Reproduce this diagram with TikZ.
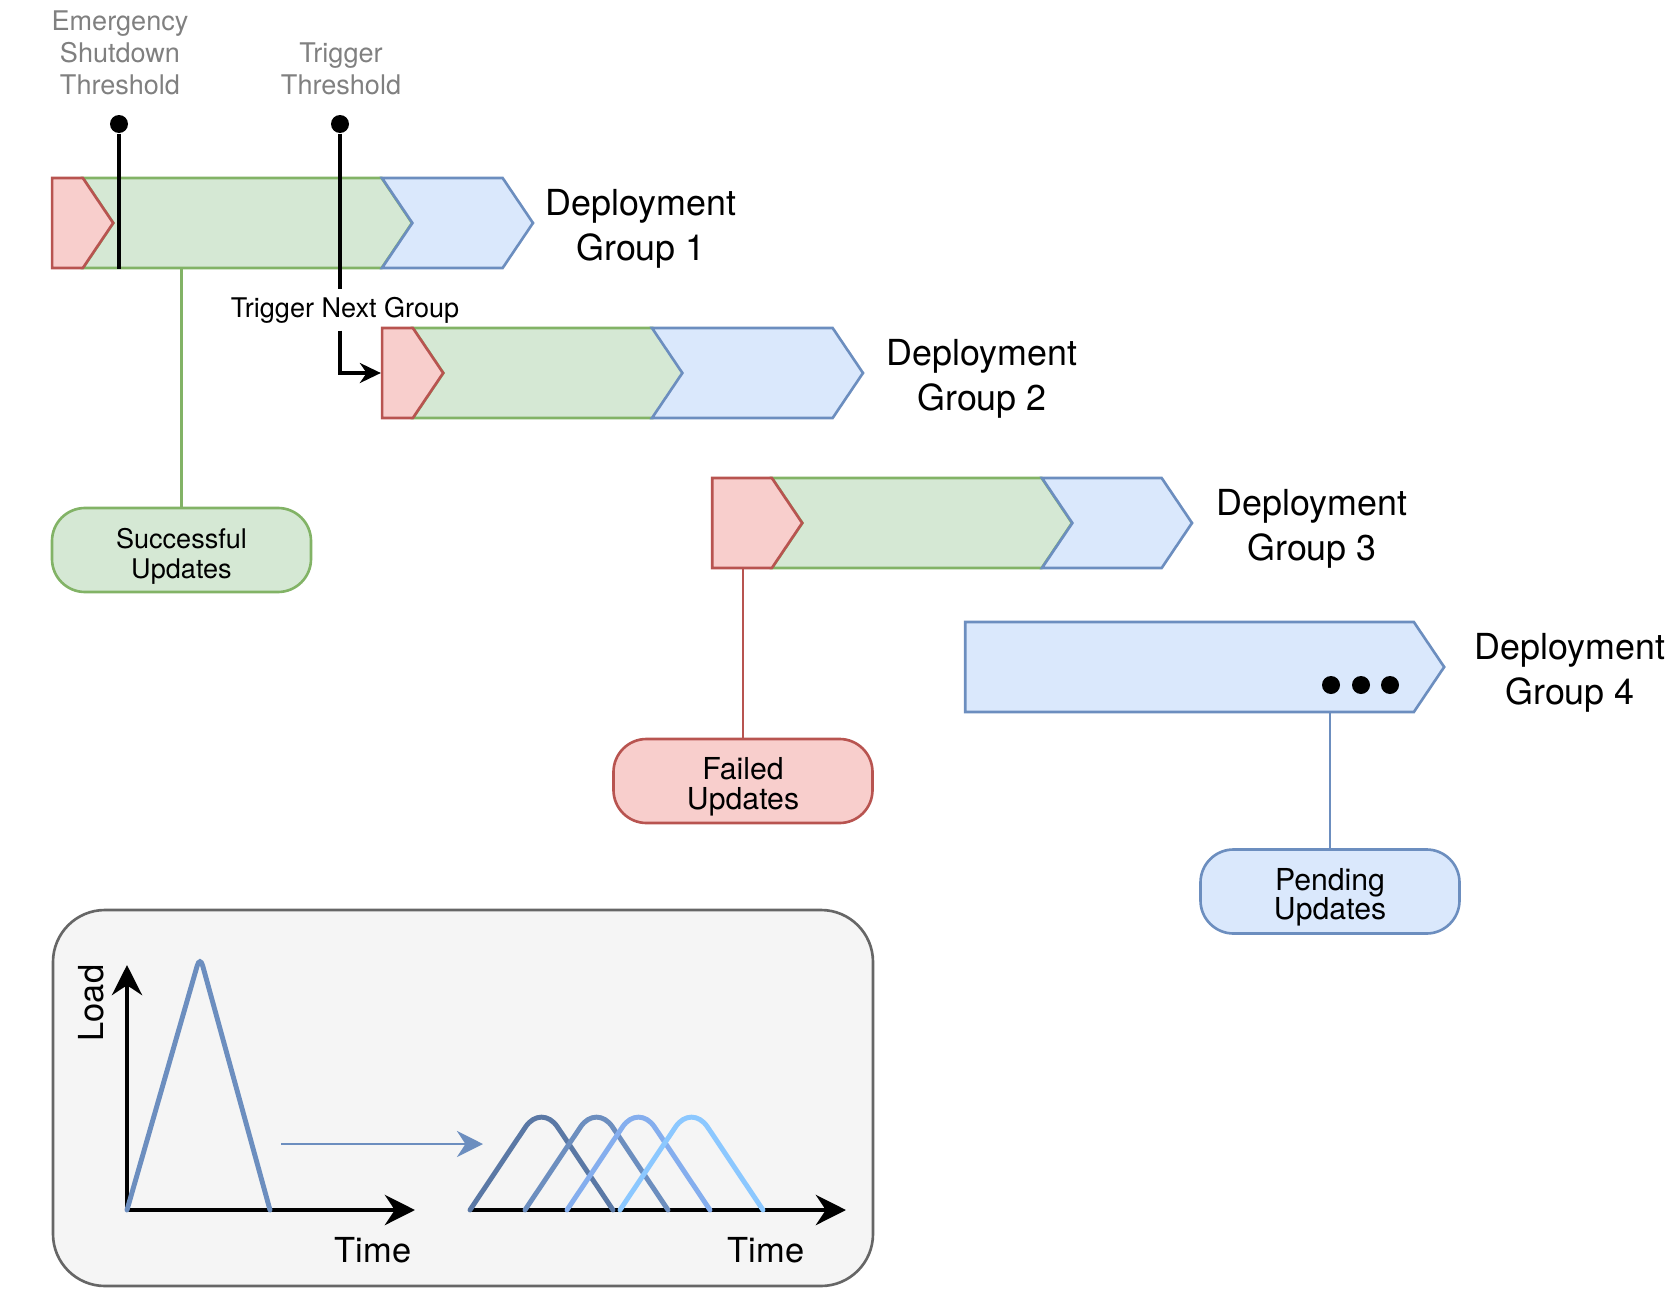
\documentclass[tikz,border=0pt]{standalone}
\usepackage{fontspec}
\setmainfont{TeX Gyre Heros}
\usepackage{tikz}
\usetikzlibrary{positioning,arrows.meta,shapes.symbols}
\definecolor{redfill}{HTML}{F8CECC}
\definecolor{redline}{HTML}{B85450}
\definecolor{grnfill}{HTML}{D5E8D4}
\definecolor{grnline}{HTML}{82B366}
\definecolor{blufill}{HTML}{DAE8FC}
\definecolor{bluline}{HTML}{6C8EBF}
\definecolor{thgrey}{HTML}{808080}
\definecolor{wave1}{HTML}{5A78A5}
\definecolor{wave2}{HTML}{6C8EBF}
\definecolor{wave3}{HTML}{85AEEE}
\definecolor{wave4}{HTML}{8CC8FF}
\tikzset{
  bar/.style={signal, line width=0.75pt, inner sep=0pt, minimum height=9mm, signal pointer angle=112},
  failbar/.style={bar, fill=redfill, draw=redline, signal to=east},
  okbar/.style={bar, fill=grnfill, draw=grnline, signal from=west, signal to=east},
  todobar/.style={bar, fill=blufill, draw=bluline, signal from=west, signal to=east},
  restbar/.style={bar, fill=blufill, draw=bluline, signal to=east},
  grp/.style={font=\fontsize{10.2}{12.8}\selectfont, align=center},
  thlbl/.style={font=\fontsize{7.7}{9.1}\selectfont, text=thgrey, align=center},
  tdot/.style={circle, fill=black, inner sep=0pt, minimum size=1.8mm},
  thr/.style={line width=1pt, draw=black},
  fl/.style={font=\fontsize{7.7}{9}\selectfont, inner sep=0pt, minimum height=4mm},
  pill/.style={draw, rounded corners=3.3mm, line width=0.75pt, minimum width=25.9mm, minimum height=8.4mm, font=\fontsize{8.6}{8.45}\selectfont, align=center, inner sep=1pt, text height=18pt},
  axis/.style={line width=1.4pt, -{Stealth[length=3mm,width=3mm]}},
  panel/.style={draw=black!60, fill=black!4, line width=0.75pt, rounded corners=5.2mm, minimum width=82mm, minimum height=37.6mm},
  ax/.style={font=\fontsize{9.8}{11}\selectfont},
  wave/.style={line width=1.4pt, rounded corners=2.9mm, line cap=round},
}
\begin{document}
\begin{tikzpicture}
\useasboundingbox (0,0) rectangle (16.65,-12.96);
% group 1
\node[okbar, minimum width=32.9mm] (g1ok) at (2.475,-2.23) {};
\node[failbar, minimum width=6.1mm] (g1fail) at (0.675,-2.23) {};
\node[todobar, minimum width=15.1mm] (g1todo) at (4.575,-2.23) {};
\node[grp] (g1lbl) at (6.41,-2.285) {Deployment\\Group 1};
% group 2
\node[okbar, minimum width=27mm] (g2ok) at (5.48,-3.73) {};
\node[failbar, minimum width=6.1mm] (g2fail) at (3.975,-3.73) {};
\node[todobar, minimum width=21.1mm] (g2todo) at (7.575,-3.73) {};
\node[grp] (g2lbl) at (9.82,-3.785) {Deployment\\Group 2};
% group 3
\node[okbar, minimum width=30mm] (g3ok) at (9.22,-5.23) {};
\node[failbar, minimum width=9mm] (g3fail) at (7.42,-5.23) {};
\node[todobar, minimum width=15mm] (g3todo) at (11.17,-5.23) {};
\node[grp] (g3lbl) at (13.12,-5.29) {Deployment\\Group 3};
% group 4
\node[restbar, minimum width=47.9mm] (g4rest) at (11.895,-6.67) {};
\node[tdot] (more1) at (13.31,-6.85) {};
\node[tdot] (more2) at (13.61,-6.85) {};
\node[tdot] (more3) at (13.90,-6.85) {};
\node[grp] (g4lbl) at (15.70,-6.725) {Deployment\\Group 4};
% thresholds
\node[thlbl] (eslbl) at (1.20,-0.53) {Emergency\\Shutdown\\Threshold};
\node[thlbl] (trlbl) at (3.41,-0.69) {Trigger\\Threshold};
\node[tdot] (esdot) at (1.19,-1.24) {};
\node[tdot] (trdot) at (3.40,-1.24) {};
\node[fl] (nextlbl) at (3.45,-3.10) {Trigger Next Group};
\draw[thr] (esdot) -- (esdot |- g1ok.south);
\draw[thr] (trdot) -- (trdot |- nextlbl.north);
\draw[thr, -{Stealth[length=2.1mm,width=2mm]}] (trdot |- nextlbl.south) |- (g2fail.west);
% outcomes
\node[pill, fill=grnfill, draw=grnline, font=\fontsize{7.7}{8.45}\selectfont] (okpill) at (1.815,-5.50) {Successful\\Updates};
\node[pill, fill=redfill, draw=redline] (failpill) at (7.43,-7.81) {Failed\\Updates};
\node[pill, fill=blufill, draw=bluline] (todopill) at (13.30,-8.915) {Pending\\Updates};
\draw[grnline, line width=0.6pt] (okpill) -- (okpill |- g1ok.south);
\draw[redline, line width=0.6pt] (failpill) -- (failpill |- g3fail.south);
\draw[bluline, line width=0.6pt] (todopill) -- (todopill |- g4rest.south);
% load chart
\node[panel] (chart) at (4.63,-10.98) {};
\coordinate (o1) at (1.27,-12.10);
\coordinate (o1y) at (1.27,-9.65);
\coordinate (o1x) at (4.15,-12.10);
\coordinate (o2) at (4.70,-12.10);
\coordinate (o2x) at (8.46,-12.10);
\draw[axis] (o1) -- (o1y);
\draw[axis] (o1) -- (o1x);
\draw[axis] (o2) -- (o2x);
\node[ax, rotate=90] (loadlbl) at (0.91,-10.03) {Load};
\node[ax] (time1) at (3.73,-12.50) {Time};
\node[ax] (time2) at (7.66,-12.50) {Time};
\draw[wave, draw=wave2, rounded corners=1mm] (o1) -- (2.00,-9.56) -- (2.70,-12.10);
\coordinate (sa) at (2.81,-11.44);
\coordinate (sb) at (4.83,-11.44);
\draw[bluline, line width=0.8pt, -{Stealth[length=2.6mm,width=2.6mm]}] (sa) -- (sb);
\draw[wave, draw=wave1] (4.70,-12.10) -- (5.415,-11.03) -- (6.13,-12.10);
\draw[wave, draw=wave2] (5.25,-12.10) -- (5.965,-11.03) -- (6.68,-12.10);
\draw[wave, draw=wave3] (5.67,-12.10) -- (6.385,-11.03) -- (7.10,-12.10);
\draw[wave, draw=wave4] (6.20,-12.10) -- (6.915,-11.03) -- (7.63,-12.10);
\end{tikzpicture}
\end{document}
